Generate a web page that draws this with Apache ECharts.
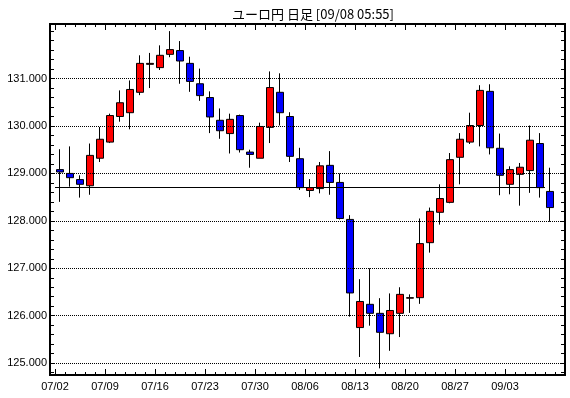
<!DOCTYPE html>
<html>
<head>
<meta charset="utf-8">
<script src="https://cdn.jsdelivr.net/npm/echarts@6/dist/echarts.min.js"></script>
<style>
    html, body { margin: 0; padding: 0; background: #fff; }
    #chart { width: 570px; height: 398px; }
</style>
</head>
<body>
<div id="chart"></div>
<script>
    // trading days 07/02 - 09/07
    const days = [
        '07/02','07/03','07/04','07/05','07/06',
        '07/09','07/10','07/11','07/12','07/13',
        '07/16','07/17','07/18','07/19','07/20',
        '07/23','07/24','07/25','07/26','07/27',
        '07/30','07/31','08/01','08/02','08/03',
        '08/06','08/07','08/08','08/09','08/10',
        '08/13','08/14','08/15','08/16','08/17',
        '08/20','08/21','08/22','08/23','08/24',
        '08/27','08/28','08/29','08/30','08/31',
        '09/03','09/04','09/05','09/06','09/07'
    ]
    const open = [
        129.08, 129.00, 128.87, 128.74, 129.32, 129.66, 130.20, 130.28, 130.71, 131.30,
        131.23, 131.51, 131.59, 131.32, 130.89, 130.60, 130.12, 129.84, 130.22, 129.45,
        129.32, 129.97, 130.71, 130.20, 129.31, 128.64, 128.68, 129.17, 128.81, 128.03,
        125.75, 126.24, 126.05, 125.62, 126.05, 126.37, 126.38, 127.54, 128.18, 128.39,
        129.34, 129.66, 130.01, 130.73, 129.53, 128.77, 128.98, 129.06, 129.63, 128.62
    ]
    const close = [
        129.03, 128.91, 128.77, 129.38, 129.72, 130.22, 130.49, 130.77, 131.32, 131.32,
        131.49, 131.61, 131.37, 130.94, 130.64, 130.19, 129.90, 130.14, 129.50, 129.40,
        129.99, 130.81, 130.28, 129.36, 128.70, 128.70, 129.16, 128.81, 128.05, 126.48,
        126.30, 126.05, 125.65, 126.11, 126.45, 126.38, 127.52, 128.20, 128.47, 129.29,
        129.72, 130.01, 130.75, 129.54, 128.96, 129.08, 129.13, 129.70, 128.70, 128.28
    ]
    const low = [
        128.40, 128.72, 128.49, 128.55, 129.24, 129.64, 130.09, 129.93, 130.65, 130.80,
        131.18, 131.45, 130.89, 130.72, 130.53, 129.85, 129.73, 129.42, 129.44, 129.12,
        129.32, 129.64, 130.01, 129.24, 128.65, 128.50, 128.58, 128.55, 128.03, 125.98,
        125.13, 125.79, 124.89, 125.26, 125.55, 126.06, 126.25, 127.33, 127.92, 128.37,
        128.77, 129.62, 129.57, 129.40, 128.54, 128.56, 128.32, 128.59, 128.49, 127.98
    ]
    const high = [
        129.51, 129.57, 128.96, 129.63, 129.98, 130.26, 130.75, 130.96, 131.49, 131.54,
        131.70, 132.00, 131.79, 131.46, 131.21, 130.73, 130.37, 130.26, 130.24, 129.50,
        130.07, 131.15, 131.11, 130.29, 129.54, 128.88, 129.24, 129.47, 129.00, 128.12,
        126.77, 127.00, 126.37, 126.47, 126.60, 126.45, 128.05, 128.28, 128.77, 129.43,
        129.85, 130.28, 130.86, 130.88, 129.84, 129.15, 129.22, 130.01, 129.85, 129.12
    ]
    const yLabels = [125, 126, 127, 128, 129, 130, 131]
    const refPrice = 128.70

    // ticks sit on the boundaries between days
    let xMinorTicks = days.map((d, i) => i - 0.5).concat([days.length - 0.5])
    let xMajorTicks = days.map((d, i) => i - 0.5).filter((v, i) => i % 5 === 0)
    let yMinorTicks = []
    for (let k = 624; k <= 660; k++) yMinorTicks.push(k / 5)

    let candles = days.map((d, i) => [i, open[i], close[i], low[i], high[i]])

    const font = { fontFamily: 'Liberation Sans', fontSize: 11, color: '#000' }
    const black = { color: '#000', width: 2 }

    function xAxisDef(pos, ticks, len, withLabel) {
        return {
            type: 'value', position: pos, min: -1, max: 50.5,
            axisLine: { show: true, onZero: false, lineStyle: black },
            axisTick: { show: true, inside: true, length: len, customValues: ticks,
                lineStyle: { color: '#000', width: 1 } },
            axisLabel: withLabel ? Object.assign({
                show: true, margin: 6, customValues: xMajorTicks,
                hideOverlap: false, showMinLabel: true, showMaxLabel: true,
                formatter: (v) => days[Math.round(v + 0.5)] || ''
            }, font) : { show: false },
            splitLine: { show: false }
        }
    }

    function yAxisDef(pos, withLabel) {
        return {
            type: 'value', position: pos, min: 124.75, max: 132.15,
            axisLine: { show: true, onZero: false, lineStyle: black },
            axisTick: { show: true, inside: true, length: 4, customValues: yMinorTicks,
                lineStyle: { color: '#000', width: 1 } },
            axisLabel: withLabel ? Object.assign({
                show: true, margin: 3, customValues: yLabels,
                formatter: (v) => v.toFixed(3)
            }, font) : { show: false },
            splitLine: { show: false }
        }
    }

    let chart = echarts.init(document.getElementById('chart'))
    let options = {
        animation: false,
        backgroundColor: '#fff',
        title: {
            text: 'ユーロ円 日足 [09/08 05:55]',
            left: 308, top: 3, textAlign: 'center',
            textStyle: { fontFamily: 'Noto Sans CJK JP', fontSize: 13, fontWeight: 'normal', color: '#000' }
        },
        grid: { left: 50, right: 5, top: 24, bottom: 23, containLabel: false },
        xAxis: [
            xAxisDef('bottom', xMinorTicks, 3, false),
            xAxisDef('bottom', xMajorTicks, 6, true),
            xAxisDef('top', xMinorTicks, 3, false),
            xAxisDef('top', xMajorTicks, 6, false)
        ],
        yAxis: [
            yAxisDef('left', true),
            yAxisDef('right', false)
        ],
        series: [
            {
                type: 'candlestick',
                xAxisIndex: 0,
                yAxisIndex: 0,
                data: candles,
                barWidth: 7,
                itemStyle: {
                    color: '#ff0000', color0: '#0000ff',
                    borderColor: '#000', borderColor0: '#000', borderColorDoji: '#000',
                    borderWidth: 1
                },
                markLine: {
                    silent: true,
                    symbol: 'none',
                    label: { show: false },
                    data: yLabels.map(v => ({
                        yAxis: v,
                        lineStyle: { color: '#000', width: 1, type: [1, 1] }
                    })).concat([[
                        { coord: [-0.5, refPrice], lineStyle: { color: '#000', width: 1, type: 'solid' } },
                        { coord: [48.5, refPrice] }
                    ]])
                }
            }
        ]
    }
    chart.setOption(options)
</script>
</body>
</html>
